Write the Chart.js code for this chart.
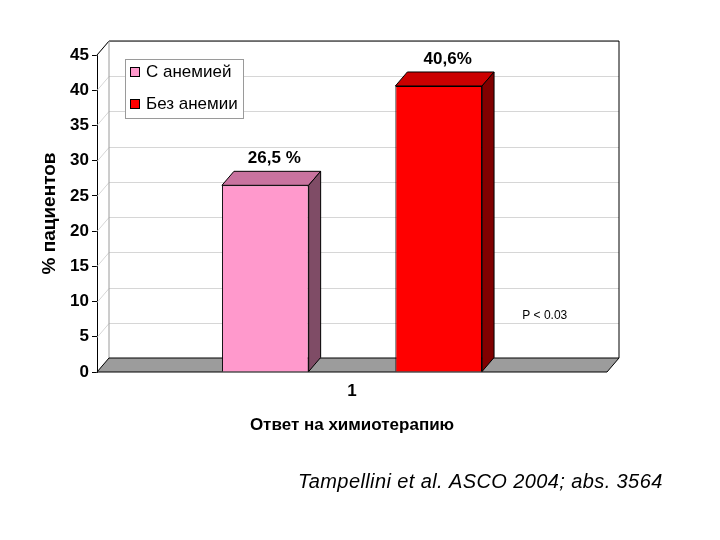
<!DOCTYPE html>
<html>
<head>
<meta charset="utf-8">
<script src="https://cdn.jsdelivr.net/npm/chart.js@4.4.0/dist/chart.umd.min.js"></script>
<style>
html, body { margin: 0; padding: 0; background: #ffffff; }
#wrap { width: 720px; height: 540px; position: relative; }
</style>
</head>
<body>
<div id="wrap"><canvas id="myChart"></canvas></div>
<script>
// data
const categories = ['1'];
const seriesNames = ['С анемией', 'Без анемии'];
const withAnemia = [26.5];
const withoutAnemia = [40.6];
const valueLabels = ['26,5 %', '40,6%'];
const yTicks = [0, 5, 10, 15, 20, 25, 30, 35, 40, 45];
const pValueText = 'P < 0.03';
const citation = 'Tampellini et al. ASCO 2004; abs. 3564';

document.addEventListener('DOMContentLoaded', function () {
    const ctx = document.getElementById('myChart').getContext('2d');
    const fontFamily = 'Arial, "Liberation Sans", sans-serif';
    Chart.defaults.font.family = fontFamily;
    Chart.defaults.color = '#000000';

    const style = {
        dx: 12,
        dy: -14,
        front: ['#FF99CC', '#FF0000'],
        top: ['#C9739F', '#CC0000'],
        side: ['#7F4C66', '#800000'],
        floor: '#9C9C9C',
        grid: '#D6D6D6'
    };

    function poly(c, pts, fill, stroke) {
        c.beginPath();
        c.moveTo(pts[0][0], pts[0][1]);
        for (let k = 1; k < pts.length; k++) c.lineTo(pts[k][0], pts[k][1]);
        c.closePath();
        if (fill) { c.fillStyle = fill; c.fill(); }
        if (stroke) { c.strokeStyle = stroke; c.lineWidth = 1; c.stroke(); }
    }

    const threeD = {
        id: 'threeD',
        beforeDatasetsDraw(chart) {
            const c = chart.ctx, a = chart.chartArea, y = chart.scales.y;
            const dx = style.dx, dy = style.dy;
            c.save();
            // grid on left and back walls
            c.strokeStyle = style.grid;
            c.lineWidth = 1;
            yTicks.forEach(function (v) {
                const py = Math.round(y.getPixelForValue(v)) + 0.5;
                c.beginPath();
                c.moveTo(a.left, py);
                c.lineTo(a.left + dx, py + dy);
                c.lineTo(a.right + dx, py + dy);
                c.stroke();
            });
            // back wall outline
            c.strokeStyle = '#000000';
            c.beginPath();
            c.moveTo(a.left, a.top);
            c.lineTo(a.left + dx, a.top + dy);
            c.lineTo(a.right + dx, a.top + dy);
            c.lineTo(a.right + dx, a.bottom + dy);
            c.stroke();
            c.strokeStyle = '#9a9a9a';
            c.beginPath();
            c.moveTo(a.left + dx, a.top + dy);
            c.lineTo(a.left + dx, a.bottom + dy);
            c.stroke();
            // floor
            const b = y.getPixelForValue(0);
            poly(c, [[a.left, b], [a.right, b], [a.right + dx, b + dy], [a.left + dx, b + dy]], style.floor, '#000000');
            c.restore();
        },
        afterDatasetsDraw(chart) {
            const c = chart.ctx;
            const dx = style.dx, dy = style.dy;
            c.save();
            chart.data.datasets.forEach(function (ds, i) {
                const meta = chart.getDatasetMeta(i);
                meta.data.forEach(function (bar) {
                    const p = bar.getProps(['x', 'y', 'base', 'width'], true);
                    const l = p.x - p.width / 2, r = p.x + p.width / 2;
                    poly(c, [[l, p.y], [r, p.y], [r + dx, p.y + dy], [l + dx, p.y + dy]], style.top[i], '#000000');
                    poly(c, [[r, p.y], [r + dx, p.y + dy], [r + dx, p.base + dy], [r, p.base]], style.side[i], '#000000');
                    c.fillStyle = '#000000';
                    c.font = 'bold 17px ' + fontFamily;
                    c.textAlign = 'center';
                    c.textBaseline = 'middle';
                    c.fillText(valueLabels[i], p.x + dx / 2 + 3, p.y + dy - 13);
                });
            });
            c.restore();
        },
        afterDraw(chart) {
            const c = chart.ctx, a = chart.chartArea, y = chart.scales.y;
            c.save();
            // legend box inside the plot
            const lx = a.left + 28, ly = a.top + 4;
            c.fillStyle = '#ffffff';
            c.fillRect(lx, ly, 118, 59);
            c.strokeStyle = '#9a9a9a';
            c.lineWidth = 1;
            c.strokeRect(lx + 0.5, ly + 0.5, 118, 59);
            c.font = '17px ' + fontFamily;
            c.textAlign = 'left';
            c.textBaseline = 'middle';
            seriesNames.forEach(function (name, i) {
                const ry = ly + 13 + i * 32;
                c.fillStyle = style.front[i];
                c.fillRect(lx + 5, ry - 5, 10, 10);
                c.strokeStyle = '#000000';
                c.strokeRect(lx + 5.5, ry - 4.5, 9, 9);
                c.fillStyle = '#000000';
                c.fillText(name, lx + 21, ry);
            });
            // p-value note
            c.font = '12px ' + fontFamily;
            c.textAlign = 'center';
            c.fillText(pValueText, a.left + a.width * 0.878, y.getPixelForValue(8));
            // citation
            c.font = 'italic 20px ' + fontFamily;
            c.letterSpacing = '0.4px';
            c.fillStyle = '#000000';
            c.textAlign = 'left';
            c.fillText(citation, 298, 482);
            c.restore();
        }
    };

    new Chart(ctx, {
        type: 'bar',
        data: {
            labels: categories,
            datasets: [{
                label: seriesNames[0],
                data: withAnemia,
                backgroundColor: style.front[0],
                borderColor: '#000000',
                borderWidth: 1
            }, {
                label: seriesNames[1],
                data: withoutAnemia,
                backgroundColor: style.front[1],
                borderColor: '#000000',
                borderWidth: 1
            }]
        },
        options: {
            responsive: true,
            maintainAspectRatio: false,
            animation: false,
            categoryPercentage: 0.68,
            barPercentage: 0.5,
            layout: { padding: { left: 0, right: 113, top: 55, bottom: 0 } },
            scales: {
                x: {
                    grid: { display: false },
                    border: { display: false },
                    ticks: { font: { size: 17, weight: 'bold' }, padding: 1 },
                    title: {
                        display: true,
                        text: 'Ответ на химиотерапию',
                        font: { size: 17, weight: 'bold' },
                        padding: { top: 0, bottom: 104 }
                    },
                    afterFit: function (scale) { scale.height = 168; }
                },
                y: {
                    min: yTicks[0],
                    max: yTicks[yTicks.length - 1],
                    grid: { drawOnChartArea: false, tickLength: 5, color: '#000000' },
                    border: { display: true, color: '#000000' },
                    ticks: { stepSize: 5, font: { size: 17, weight: 'bold' }, padding: 3 },
                    title: {
                        display: true,
                        text: '% пациентов',
                        font: { size: 19, weight: 'bold' },
                        padding: { top: 38, bottom: 0 }
                    },
                    afterFit: function (scale) { scale.width = 97; }
                }
            },
            plugins: {
                legend: { display: false },
                title: { display: false },
                tooltip: { enabled: false }
            }
        },
        plugins: [threeD]
    });
});
</script>
</body>
</html>
